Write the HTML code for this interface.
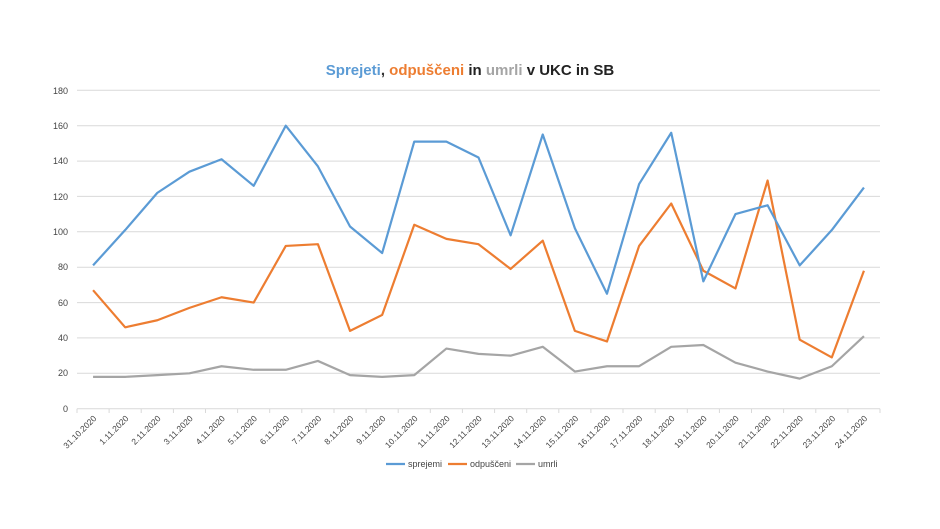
<!DOCTYPE html>
<html><head><meta charset="utf-8"><style>
html,body{margin:0;padding:0;background:#fff;}
svg{display:block;font-family:"Liberation Sans",sans-serif;}
</style></head><body>
<svg width="940" height="529" viewBox="0 0 940 529" xmlns="http://www.w3.org/2000/svg">
<rect width="940" height="529" fill="#fff"/>
<text x="470" y="75" text-anchor="middle" font-size="15" font-weight="bold"><tspan fill="#5b9bd5">Sprejeti</tspan><tspan fill="#333">, </tspan><tspan fill="#ed7d31">odpuščeni</tspan><tspan fill="#222"> in </tspan><tspan fill="#a5a5a5">umrli</tspan><tspan fill="#222"> v UKC in SB</tspan></text>
<g stroke="#d9d9d9" stroke-width="1">
<line x1="77" x2="880" y1="90.3" y2="90.3"/><line x1="77" x2="880" y1="125.7" y2="125.7"/><line x1="77" x2="880" y1="161.1" y2="161.1"/><line x1="77" x2="880" y1="196.4" y2="196.4"/><line x1="77" x2="880" y1="231.8" y2="231.8"/><line x1="77" x2="880" y1="267.2" y2="267.2"/><line x1="77" x2="880" y1="302.6" y2="302.6"/><line x1="77" x2="880" y1="337.9" y2="337.9"/><line x1="77" x2="880" y1="373.3" y2="373.3"/><line x1="77" x2="880" y1="408.7" y2="408.7"/>
</g>
<g font-size="9" fill="#444" text-anchor="end">
<text x="68" y="94">180</text><text x="68" y="129">160</text><text x="68" y="164">140</text><text x="68" y="200">120</text><text x="68" y="235">100</text><text x="68" y="270">80</text><text x="68" y="306">60</text><text x="68" y="341">40</text><text x="68" y="376">20</text><text x="68" y="412">0</text>
</g>
<g stroke="#d9d9d9"><line x1="77" x2="77" y1="408.7" y2="413"/><line x1="109.1" x2="109.1" y1="408.7" y2="413"/><line x1="141.2" x2="141.2" y1="408.7" y2="413"/><line x1="173.4" x2="173.4" y1="408.7" y2="413"/><line x1="205.5" x2="205.5" y1="408.7" y2="413"/><line x1="237.6" x2="237.6" y1="408.7" y2="413"/><line x1="269.7" x2="269.7" y1="408.7" y2="413"/><line x1="301.8" x2="301.8" y1="408.7" y2="413"/><line x1="334" x2="334" y1="408.7" y2="413"/><line x1="366.1" x2="366.1" y1="408.7" y2="413"/><line x1="398.2" x2="398.2" y1="408.7" y2="413"/><line x1="430.3" x2="430.3" y1="408.7" y2="413"/><line x1="462.4" x2="462.4" y1="408.7" y2="413"/><line x1="494.6" x2="494.6" y1="408.7" y2="413"/><line x1="526.7" x2="526.7" y1="408.7" y2="413"/><line x1="558.8" x2="558.8" y1="408.7" y2="413"/><line x1="590.9" x2="590.9" y1="408.7" y2="413"/><line x1="623" x2="623" y1="408.7" y2="413"/><line x1="655.2" x2="655.2" y1="408.7" y2="413"/><line x1="687.3" x2="687.3" y1="408.7" y2="413"/><line x1="719.4" x2="719.4" y1="408.7" y2="413"/><line x1="751.5" x2="751.5" y1="408.7" y2="413"/><line x1="783.6" x2="783.6" y1="408.7" y2="413"/><line x1="815.8" x2="815.8" y1="408.7" y2="413"/><line x1="847.9" x2="847.9" y1="408.7" y2="413"/><line x1="880" x2="880" y1="408.7" y2="413"/></g>
<g font-size="8.5" fill="#444" text-anchor="end">
<text transform="translate(97,419) rotate(-45)">31.10.2020</text>
<text transform="translate(129.1,419) rotate(-45)">1.11.2020</text>
<text transform="translate(161.2,419) rotate(-45)">2.11.2020</text>
<text transform="translate(193.4,419) rotate(-45)">3.11.2020</text>
<text transform="translate(225.5,419) rotate(-45)">4.11.2020</text>
<text transform="translate(257.6,419) rotate(-45)">5.11.2020</text>
<text transform="translate(289.7,419) rotate(-45)">6.11.2020</text>
<text transform="translate(321.8,419) rotate(-45)">7.11.2020</text>
<text transform="translate(354,419) rotate(-45)">8.11.2020</text>
<text transform="translate(386.1,419) rotate(-45)">9.11.2020</text>
<text transform="translate(418.2,419) rotate(-45)">10.11.2020</text>
<text transform="translate(450.3,419) rotate(-45)">11.11.2020</text>
<text transform="translate(482.4,419) rotate(-45)">12.11.2020</text>
<text transform="translate(514.6,419) rotate(-45)">13.11.2020</text>
<text transform="translate(546.7,419) rotate(-45)">14.11.2020</text>
<text transform="translate(578.8,419) rotate(-45)">15.11.2020</text>
<text transform="translate(610.9,419) rotate(-45)">16.11.2020</text>
<text transform="translate(643,419) rotate(-45)">17.11.2020</text>
<text transform="translate(675.2,419) rotate(-45)">18.11.2020</text>
<text transform="translate(707.3,419) rotate(-45)">19.11.2020</text>
<text transform="translate(739.4,419) rotate(-45)">20.11.2020</text>
<text transform="translate(771.5,419) rotate(-45)">21.11.2020</text>
<text transform="translate(803.6,419) rotate(-45)">22.11.2020</text>
<text transform="translate(835.8,419) rotate(-45)">23.11.2020</text>
<text transform="translate(867.9,419) rotate(-45)">24.11.2020</text>
</g>
<g transform="translate(93.06,408.7) scale(32.12,-1.7689)" fill="none" stroke-width="2.2" stroke-linejoin="round">
<polyline vector-effect="non-scaling-stroke" stroke="#a5a5a5" points="0,18 1,18 2,19 3,20 4,24 5,22 6,22 7,27 8,19 9,18 10,19 11,34 12,31 13,30 14,35 15,21 16,24 17,24 18,35 19,36 20,26 21,21 22,17 23,24 24,41"/>
<polyline vector-effect="non-scaling-stroke" stroke="#ed7d31" points="0,67 1,46 2,50 3,57 4,63 5,60 6,92 7,93 8,44 9,53 10,104 11,96 12,93 13,79 14,95 15,44 16,38 17,92 18,116 19,78 20,68 21,129 22,39 23,29 24,78"/>
<polyline vector-effect="non-scaling-stroke" stroke="#5b9bd5" points="0,81 1,101 2,122 3,134 4,141 5,126 6,160 7,137 8,103 9,88 10,151 11,151 12,142 13,98 14,155 15,102 16,65 17,127 18,156 19,72 20,110 21,115 22,81 23,101 24,125"/>
</g>
<g font-size="9" fill="#444">
<line x1="386" x2="405" y1="464" y2="464" stroke="#5b9bd5" stroke-width="2.2"/><text x="408" y="467">sprejemi</text>
<line x1="448" x2="467" y1="464" y2="464" stroke="#ed7d31" stroke-width="2.2"/><text x="470" y="467">odpuščeni</text>
<line x1="516" x2="535" y1="464" y2="464" stroke="#a5a5a5" stroke-width="2.2"/><text x="538" y="467">umrli</text>
</g>
</svg>
</body></html>
